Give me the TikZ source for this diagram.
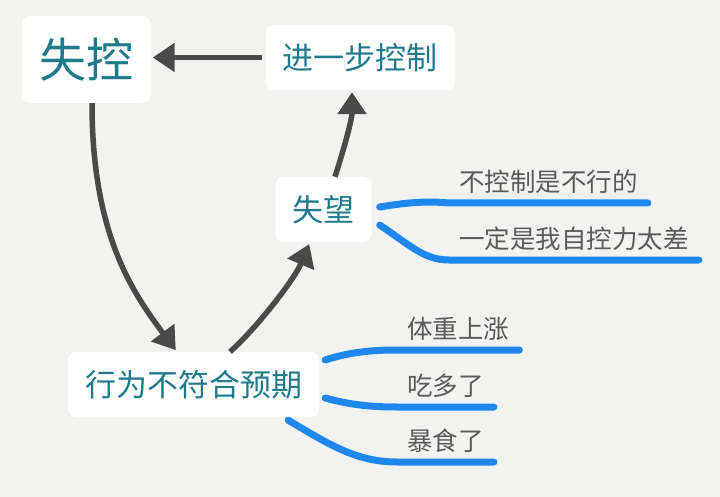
\documentclass[tikz,border=0pt]{standalone}
\usepackage{fontspec}
\usepackage{tikz}
\usepackage{xcolor}
\usetikzlibrary{arrows.meta}
\newfontfamily\cjk{Noto Sans CJK SC}
\definecolor{bgcol}{HTML}{F2F3F1}
\definecolor{topiccol}{HTML}{1F7A8C}
\definecolor{leafcol}{HTML}{5A5A5A}
\definecolor{branchcol}{HTML}{1E88F0}
\definecolor{flowcol}{HTML}{4A4A4A}

\begin{document}
\begin{tikzpicture}[x=1pt,y=-1pt,
		topic/.style={fill=white, rounded corners=8pt, inner xsep=17pt, inner ysep=0pt,
			minimum height=65pt, text=topiccol, font=\cjk\fontsize{31}{31}\selectfont,
			text height=27.3pt, text depth=3.7pt},
		bigtopic/.style={topic, minimum height=87pt, font=\cjk\fontsize{47}{47}\selectfont,
			text height=41.4pt, text depth=5.6pt},
		leaf/.style={inner xsep=10pt, inner ysep=8pt, text=leafcol,
			font=\cjk\fontsize{25.5}{25.5}\selectfont, text height=22.4pt, text depth=3.1pt},
		branch/.style={branchcol, line width=7pt, line cap=round},
		flow/.style={flowcol, line width=5.5pt, -{Triangle[length=22pt,width=28pt]}}]
				\useasboundingbox (0,0) rectangle (720,497);
				\fill[bgcol] (0,0) rectangle (720,497);
				
				\node[bigtopic] at (86.5,59.5) (shikong) {失控};
				\node[topic] at (360,57.5) (jinyibu) {进一步控制};
				\node[topic] at (323.5,209.5) (shiwang) {失望};
				\node[topic] at (193.5,384.5) (xingwei) {行为不符合预期};
				
				\node[leaf, anchor=south west] at (449,203) (buxing) {不控制是不行的};
				\node[leaf, anchor=south west] at (449,260) (zikong) {一定是我自控力太差};
				\node[leaf, anchor=south west] at (397,350) (tizhong) {体重上涨};
				\node[leaf, anchor=south west] at (397,407) (chiduo) {吃多了};
				\node[leaf, anchor=south west] at (397,462) (baoshi) {暴食了};
				
				\draw[flow, shorten <=3pt, shorten >=2pt] (jinyibu.west) -- (jinyibu.west -| shikong.east);
				\draw[flow, shorten >=2pt] ([xshift=5.5pt]shikong.south) .. controls +(0,130) and +(-45,-60) .. ([xshift=-16.5pt]xingwei.north);
				\draw[flow, shorten >=2pt] ([xshift=36.5pt]xingwei.north) .. controls +(25,-22) and +(-16,38) .. ([xshift=-13.5pt]shiwang.south);
				\draw[flow, shorten >=2pt] ([xshift=11.5pt]shiwang.north) .. controls +(8,-25) and +(0,30) .. ([xshift=-8pt]jinyibu.south);
				
				\draw[branch] ([xshift=8pt,yshift=2.5pt]shiwang.east) .. controls +(30,-5) and +(-20,-2) .. (buxing.south west) -- (buxing.south east);
				\draw[branch] ([xshift=8pt,yshift=-15.5pt]shiwang.east) .. controls +(30,20) and +(-25,0) .. (zikong.south west) -- (zikong.south east);
				\draw[branch] ([xshift=6pt,yshift=24.5pt]xingwei.east) .. controls +(25,-8) and +(-25,0) .. (tizhong.south west) -- (tizhong.south east);
				\draw[branch] ([xshift=6pt,yshift=-13.5pt]xingwei.east) .. controls +(25,7) and +(-25,0) .. (chiduo.south west) -- (chiduo.south east);
				\draw[branch] ([xshift=-31pt,yshift=-3pt]xingwei.south east) .. controls +(42,25) and +(-40,0) .. (baoshi.south west) -- (baoshi.south east);
			\end{tikzpicture}
\end{document}
